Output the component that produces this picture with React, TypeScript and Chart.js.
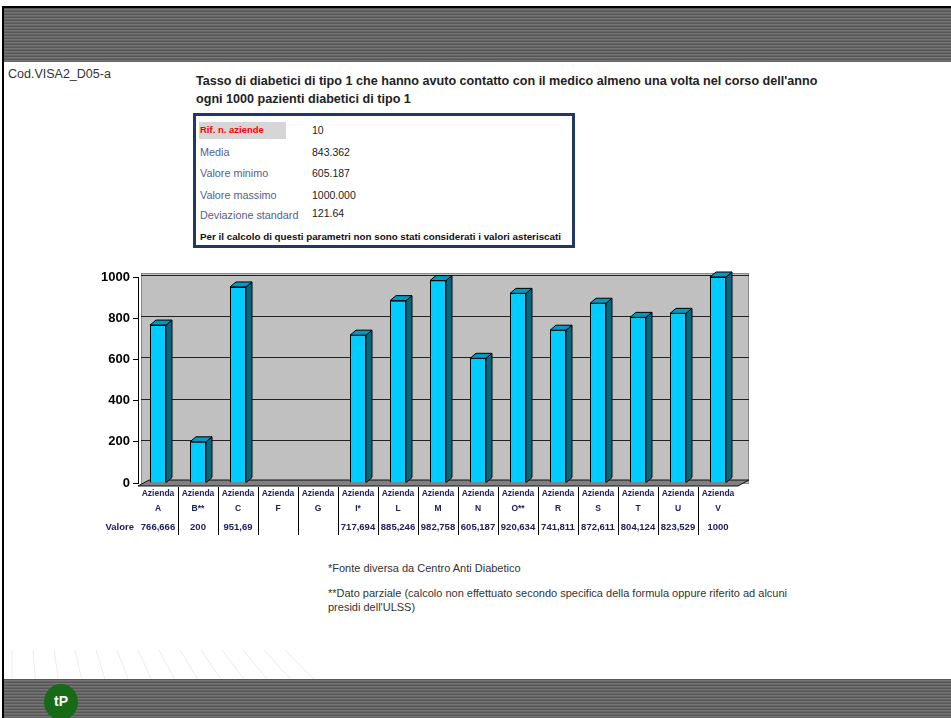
import React, { useEffect, useRef } from "react";
import { Chart, registerables } from "chart.js";

Chart.register(...registerables);

const categories = ["A", "B**", "C", "F", "G", "I*", "L", "M", "N", "O**", "R", "S", "T", "U", "V"];
const values: (number | null)[] = [766.666, 200, 951.69, null, null, 717.694, 885.246, 982.758, 605.187, 920.634, 741.811, 872.611, 804.124, 823.529, 1000];
const valueLabels = ["766,666", "200", "951,69", "", "", "717,694", "885,246", "982,758", "605,187", "920,634", "741,811", "872,611", "804,124", "823,529", "1000"];
const yTicks = [0, 200, 400, 600, 800, 1000];
const statLabels = ["Rif. n. aziende", "Media", "Valore minimo", "Valore massimo", "Deviazione standard"];
const statValues = ["10", "843.362", "605.187", "1000.000", "121.64"];

const DX = 6;
const DY = 5;
const WX = 11;
const WY = 4;

const threeD = {
  id: "threeD",
  beforeDatasetsDraw(chart: any) {
    const { ctx, chartArea } = chart;
    const { left, right, top, bottom } = chartArea;
    const y = chart.scales.y;
    ctx.save();
    ctx.fillStyle = "#C0C0C0";
    ctx.fillRect(left + 3, top - WY, right - left + WX - 3, bottom - top + WY);
    ctx.strokeStyle = "#8a8a8a";
    ctx.lineWidth = 1;
    ctx.strokeRect(left + 3.5, top - WY + 0.5, right - left + WX - 4, bottom - top + WY);
    ctx.strokeStyle = "#222";
    ctx.lineWidth = 1.2;
    for (const t of yTicks) {
      if (t === 0) continue;
      const py = Math.round(y.getPixelForValue(t)) - 2 + 0.5;
      ctx.beginPath();
      ctx.moveTo(left + 3, py);
      ctx.lineTo(right + WX, py);
      ctx.stroke();
    }
    ctx.fillStyle = "#808080";
    ctx.strokeStyle = "#111";
    ctx.lineWidth = 1;
    ctx.beginPath();
    ctx.moveTo(left, bottom + 3);
    ctx.lineTo(right, bottom + 3);
    ctx.lineTo(right + WX, bottom - 3);
    ctx.lineTo(left + WX, bottom - 3);
    ctx.closePath();
    ctx.fill();
    ctx.stroke();
    ctx.restore();
  },
  afterDatasetsDraw(chart: any) {
    const { ctx } = chart;
    const meta = chart.getDatasetMeta(0);
    ctx.save();
    ctx.strokeStyle = "#000";
    ctx.lineWidth = 1;
    meta.data.forEach((el: any, i: number) => {
      if (values[i] == null) return;
      const { x, y, base, width } = el.getProps(["x", "y", "base", "width"], true);
      const l = x - width / 2;
      const r = x + width / 2;
      ctx.fillStyle = "#006A85";
      ctx.beginPath();
      ctx.moveTo(r, y);
      ctx.lineTo(r + DX, y - DY);
      ctx.lineTo(r + DX, base - DY);
      ctx.lineTo(r, base);
      ctx.closePath();
      ctx.fill();
      ctx.stroke();
      ctx.fillStyle = "#0099C0";
      ctx.beginPath();
      ctx.moveTo(l, y);
      ctx.lineTo(l + DX, y - DY);
      ctx.lineTo(r + DX, y - DY);
      ctx.lineTo(r, y);
      ctx.closePath();
      ctx.fill();
      ctx.stroke();
    });
    ctx.restore();
  },
  afterDraw(chart: any) {
    const { ctx, chartArea } = chart;
    const xs = chart.scales.x;
    const bottom = chartArea.bottom;
    ctx.save();
    ctx.fillStyle = "#1F2060";
    ctx.font = "bold 8.5px 'Liberation Sans', Arial, sans-serif";
    ctx.textAlign = "center";
    ctx.textBaseline = "middle";
    categories.forEach((c, i) => {
      const cx = xs.getPixelForValue(i);
      ctx.fillText("Azienda", cx, bottom + 11);
      ctx.fillText(c, cx, bottom + 26);
    });
    ctx.font = "bold 9.5px 'Liberation Sans', Arial, sans-serif";
    categories.forEach((c, i) => {
      const cx = xs.getPixelForValue(i);
      ctx.fillText(valueLabels[i], cx, bottom + 44);
    });
    ctx.textAlign = "right";
    ctx.fillText("Valore", chartArea.left - 4, bottom + 44);
    ctx.strokeStyle = "#000";
    ctx.lineWidth = 1;
    const half = (xs.getPixelForValue(1) - xs.getPixelForValue(0)) / 2;
    for (let i = 0; i < categories.length - 1; i++) {
      const lx = Math.round(xs.getPixelForValue(i) + half) + 0.5;
      ctx.beginPath();
      ctx.moveTo(lx, bottom + 4);
      ctx.lineTo(lx, bottom + 52);
      ctx.stroke();
    }
    ctx.restore();
  },
};

function BarChart() {
  const ref = useRef<HTMLCanvasElement>(null);
  useEffect(() => {
    if (!ref.current) return;
    const chart = new Chart(ref.current, {
      type: "bar",
      data: {
        labels: categories,
        datasets: [
          {
            data: values as any,
            backgroundColor: "#00CCFF",
            borderColor: "#000",
            borderWidth: 1,
            barPercentage: 0.4,
            categoryPercentage: 1,
          },
        ],
      },
      options: {
        animation: false,
        responsive: false,
        layout: { padding: { top: 15, right: 22, bottom: 59, left: 0 } },
        plugins: { legend: { display: false }, tooltip: { enabled: false } },
        scales: {
          x: { display: false },
          y: {
            min: 0,
            max: 1000,
            afterFit: (s: any) => {
              s.width = 48;
            },
            afterBuildTicks: (s: any) => {
              s.ticks = yTicks.map((v) => ({ value: v }));
            },
            ticks: {
              color: "#000",
              padding: 3,
              callback: (v: any) => String(v),
              font: { family: "'Liberation Sans', Arial, sans-serif", size: 13, weight: "bold" },
            },
            grid: { drawOnChartArea: false, tickLength: 5, color: "#000" },
            border: { color: "#000", width: 1 },
          },
        },
      },
      plugins: [threeD],
    });
    return () => chart.destroy();
  }, []);
  return (
    <canvas
      ref={ref}
      width={670}
      height={280}
      style={{ position: "absolute", left: 90, top: 262, width: 670, height: 280 }}
    />
  );
}

const stripes =
  "repeating-linear-gradient(180deg, #575757 0px, #575757 1px, #757575 1px, #757575 2px, #666 2px, #666 3px)";

const abs = (s: React.CSSProperties): React.CSSProperties => ({ position: "absolute", ...s });

export default function App() {
  const rowY = [130, 152, 173, 195, 215];
  return (
    <div
      style={abs({
        left: 0,
        top: 0,
        width: 951,
        height: 718,
        overflow: "hidden",
        background: "#fff",
        fontFamily: "'Liberation Sans', Arial, sans-serif",
      })}
    >
      <div style={abs({ left: 2, top: 6, width: 949, height: 2, background: "#000" })} />
      <div style={abs({ left: 2, top: 6, width: 2, height: 712, background: "#000" })} />
      <div style={abs({ left: 4, top: 8, width: 947, height: 54, background: stripes })} />
      <div style={abs({ left: 4, top: 679, width: 947, height: 39, background: stripes })} />
      <svg style={abs({ left: 4, top: 650, width: 400, height: 29 })} width={400} height={29}>
        {Array.from({ length: 14 }).map((_, i) => (
          <line
            key={i}
            x1={8 + i * 21}
            y1={0}
            x2={8 + i * 21 + i * 2.2}
            y2={29}
            stroke="#ececec"
            strokeWidth={1}
          />
        ))}
      </svg>
      <div
        style={abs({
          left: 44,
          top: 684,
          width: 34,
          height: 36,
          borderRadius: "50%",
          background: "#176b17",
          color: "#fff",
          fontWeight: "bold",
          fontSize: 14,
          lineHeight: "34px",
          textAlign: "center",
        })}
      >
        tP
      </div>

      <div style={abs({ left: 8, top: 67, fontSize: 12.5, color: "#333", whiteSpace: "nowrap" })}>Cod.VISA2_D05-a</div>
      <div
        style={abs({
          left: 196,
          top: 72,
          fontSize: 12.6,
          fontWeight: "bold",
          color: "#222",
          lineHeight: "18px",
          whiteSpace: "nowrap",
        })}
      >
        Tasso di diabetici di tipo 1 che hanno avuto contatto con il medico almeno una volta nel corso dell'anno
        <br />
        ogni 1000 pazienti diabetici di tipo 1
      </div>

      <div
        style={abs({
          left: 193,
          top: 113,
          width: 376,
          height: 129,
          border: "3px solid #1F3864",
        })}
      />
      <div style={abs({ left: 199, top: 122, width: 87, height: 17, background: "#d6d6d6" })} />
      {statLabels.map((l, i) => (
        <div
          key={l}
          style={abs({
            left: 200,
            top: rowY[i] - 7,
            fontSize: i === 0 ? 9.5 : 10.8,
            fontWeight: i === 0 ? "bold" : "normal",
            color: i === 0 ? "#ff0000" : "#55608f",
            whiteSpace: "nowrap",
            lineHeight: "14px",
          })}
        >
          {l}
        </div>
      ))}
      {statValues.map((v, i) => (
        <div
          key={i}
          style={abs({
            left: 312,
            top: rowY[i] - 7 - (i === 4 ? 2 : 0),
            fontSize: 10.5,
            color: "#222",
            whiteSpace: "nowrap",
            lineHeight: "14px",
          })}
        >
          {v}
        </div>
      ))}
      <div
        style={abs({
          left: 200,
          top: 231,
          fontSize: 9.8,
          fontWeight: "bold",
          color: "#111",
          whiteSpace: "nowrap",
          lineHeight: "12px",
        })}
      >
        Per il calcolo di questi parametri non sono stati considerati i valori asteriscati
      </div>

      <BarChart />

      <div style={abs({ left: 328, top: 562, fontSize: 11, color: "#333", whiteSpace: "nowrap" })}>
        *Fonte diversa da Centro Anti Diabetico
      </div>
      <div style={abs({ left: 328, top: 586, fontSize: 11, color: "#333", lineHeight: "14px", whiteSpace: "nowrap" })}>
        **Dato parziale (calcolo non effettuato secondo specifica della formula oppure riferito ad alcuni
        <br />
        presidi dell'ULSS)
      </div>
    </div>
  );
}
